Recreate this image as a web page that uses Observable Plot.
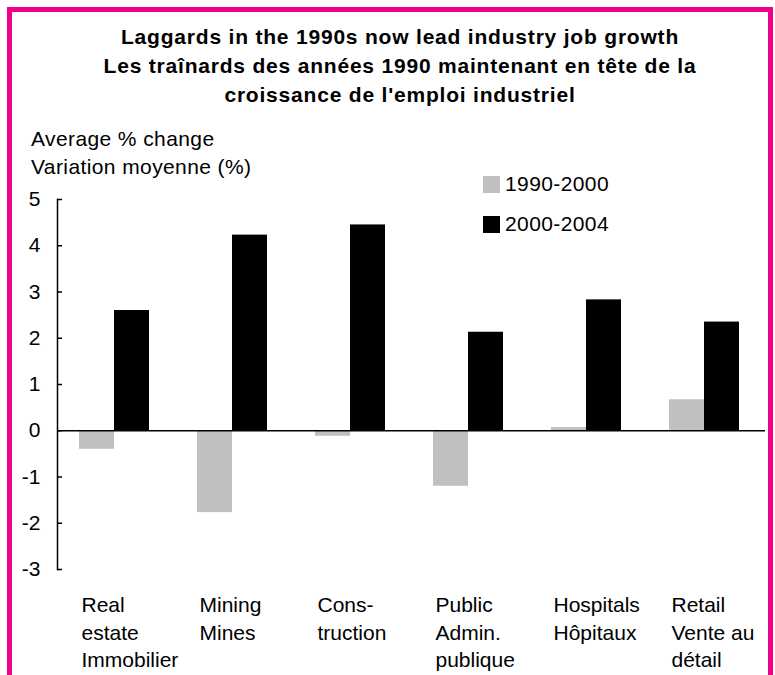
<!DOCTYPE html>
<html>
<head>
<meta charset="utf-8">
<script src="https://cdn.jsdelivr.net/npm/d3@7"></script>
<script src="https://cdn.jsdelivr.net/npm/@observablehq/plot@0.6"></script>
<style>
  body { margin: 0; background: #fff; }
  #wrap { position: relative; width: 775px; height: 675px; overflow: hidden; background: #fff;
          font-family: "Liberation Sans", Arial, sans-serif; color: #000; }
  .border { position: absolute; left: 7px; top: 7px; width: 766px; height: 720px; box-sizing: border-box;
            border: 5px solid #EC008C; border-bottom: none; }
  .title { position: absolute; top: 22px; left: 25px; width: 750px; text-align: center;
           font-weight: bold; font-size: 21px; letter-spacing: 0.8px; line-height: 29px; white-space: nowrap; }
  .ylabel { position: absolute; top: 125px; left: 31px; font-size: 21px; letter-spacing: 0.4px; line-height: 28px; white-space: nowrap; }
  .leg { position: absolute; left: 483px; font-size: 21px; letter-spacing: 0.4px; line-height: 20px; white-space: nowrap; }
  .leg .sw { position: absolute; left: 0; top: 2px; width: 17px; height: 17px; }
  .leg .lb { position: absolute; left: 22px; top: 0; }
  #chart { position: absolute; left: 0; top: 0; }
  #chart svg text.cat { letter-spacing: 0.3px; }
</style>
</head>
<body>
<div id="wrap">
  <div class="border"></div>
  <div class="title">Laggards in the 1990s now lead industry job growth<br>Les traînards des années 1990 maintenant en tête de la<br>croissance de l'emploi industriel</div>
  <div class="ylabel">Average % change<br>Variation moyenne (%)</div>
  <div id="legend"></div>
  <div id="chart"></div>
</div>
<script>
const categories = ["Real estate", "Mining", "Construction", "Public Admin.", "Hospitals", "Retail"];
const categoryLabels = ["Real\nestate\nImmobilier", "Mining\nMines", "Cons-\ntruction", "Public\nAdmin.\npublique", "Hospitals\nHôpitaux", "Retail\nVente au\ndétail"];
const series = ["1990-2000", "2000-2004"];
const values1990s = [-0.4, -1.77, -0.12, -1.2, 0.07, 0.67];
const values2000s = [2.6, 4.23, 4.45, 2.13, 2.83, 2.35];
const seriesColors = ["#c0c0c0", "#000000"];
const yTicks = [-3, -2, -1, 0, 1, 2, 3, 4, 5];

const data = categories.flatMap((c, i) => [
  {category: c, series: series[0], value: values1990s[i]},
  {category: c, series: series[1], value: values2000s[i]}
]);

// legend
const legend = document.getElementById("legend");
const legendTops = [174, 214];
series.forEach((s, i) => {
  const item = document.createElement("div");
  item.className = "leg";
  item.style.top = legendTops[i] + "px";
  item.innerHTML = `<span class="sw" style="background:${seriesColors[i]}"></span><span class="lb">${s}</span>`;
  legend.appendChild(item);
});

const chart = Plot.plot({
  width: 775,
  height: 675,
  marginTop: 199,
  marginBottom: 106,
  marginLeft: 57,
  marginRight: 10,
  style: {fontFamily: "'Liberation Sans', Arial, sans-serif", fontSize: "20px", color: "#000", background: "transparent", overflow: "visible"},
  fx: {domain: categories, paddingInner: 0, paddingOuter: 0, axis: null, label: null},
  x: {domain: series, paddingInner: 0, paddingOuter: 0.64, align: 0.45, axis: null, label: null},
  y: {domain: [-3, 5], axis: null, label: null},
  color: {domain: series, range: seriesColors},
  marks: [
    Plot.barY(data, {fx: "category", x: "series", y: "value", fill: "series"}),
    Plot.ruleY([0], {stroke: "#000", strokeWidth: 1.5}),
    Plot.frame({anchor: "left", facetAnchor: "left", stroke: "#000", strokeWidth: 1.5}),
    Plot.axisY({ticks: yTicks, tickFormat: d => String(d), tickSize: -5, tickPadding: 22, strokeWidth: 1.5, facetAnchor: "left", fontSize: 21, label: null}),
    Plot.text(categories, {fx: d => d, text: (d, i) => categoryLabels[i], className: "cat", frameAnchor: "bottom-left", textAnchor: "start", lineAnchor: "top", dx: 24, dy: 23, lineHeight: 1.31, fontSize: 21})
  ]
});
document.getElementById("chart").appendChild(chart);
</script>
</body>
</html>
